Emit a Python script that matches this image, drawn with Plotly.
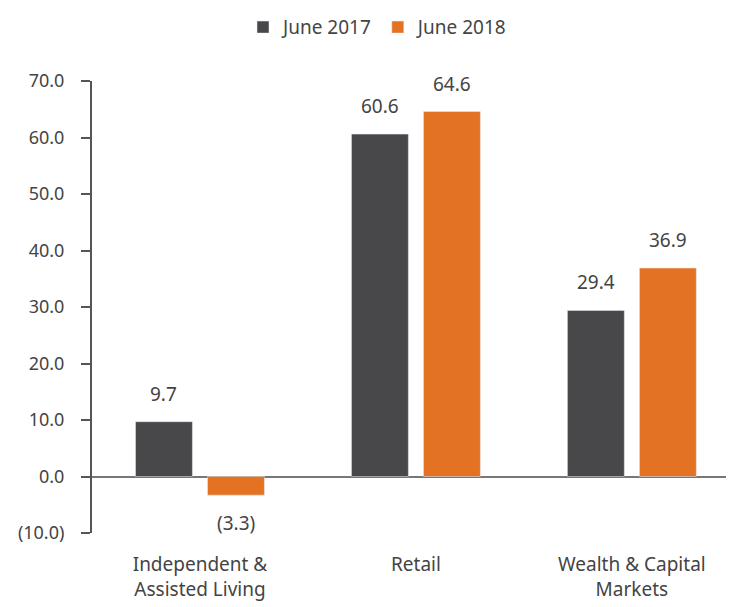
import plotly.graph_objects as go

categories = ["Independent &<br>Assisted Living", "Retail", "Wealth & Capital<br>Markets"]
june_2017 = [9.7, 60.6, 29.4]
june_2018 = [-3.3, 64.6, 36.9]
tick_values = [-10, 0, 10, 20, 30, 40, 50, 60, 70]


def fmt(v):
    # accounting style: negatives in parentheses
    return f"({abs(v):.1f})" if v < 0 else f"{v:.1f}"


font_family = "Noto Sans, Lato, sans-serif"
text_color = "#444444"
series = [("June 2017", june_2017, "#48484a", -36), ("June 2018", june_2018, "#e37222", 36)]

fig = go.Figure()
for name, values, color, shift in series:
    fig.add_trace(go.Bar(x=categories, y=values, name=name, marker_color=color))
    # value labels sit a little away from the bar ends
    for cat, v in zip(categories, values):
        fig.add_annotation(
            x=cat, y=v, text=fmt(v), showarrow=False, xshift=shift,
            yanchor="bottom" if v >= 0 else "top", yshift=13 if v >= 0 else -13,
            font=dict(size=19, color=text_color),
        )

fig.update_layout(
    width=734, height=607,
    margin=dict(l=84, r=0, t=73, b=82, autoexpand=False),
    paper_bgcolor="white", plot_bgcolor="white",
    font=dict(family=font_family, size=19, color=text_color),
    barmode="group", bargap=0.333, bargroupgap=0.21,
    showlegend=True,
    legend=dict(orientation="h", x=0.44, xanchor="center", y=1.161, yanchor="top",
                font=dict(size=19), itemwidth=30),
)
fig.update_xaxes(range=[-0.5, 2.51], showline=False, ticks="", showgrid=False,
                 tickfont=dict(size=19), ticklabelstandoff=18)
fig.update_yaxes(range=[-10, 70], tickvals=tick_values, ticktext=[fmt(v) for v in tick_values],
                 showgrid=False, showline=True, linecolor="#555555", linewidth=2,
                 ticks="outside", ticklen=9, tickcolor="#555555", tickwidth=2,
                 zeroline=True, zerolinecolor="#777777", zerolinewidth=2,
                 tickfont=dict(size=18), ticklabelstandoff=13)

fig.write_html("out.html")
